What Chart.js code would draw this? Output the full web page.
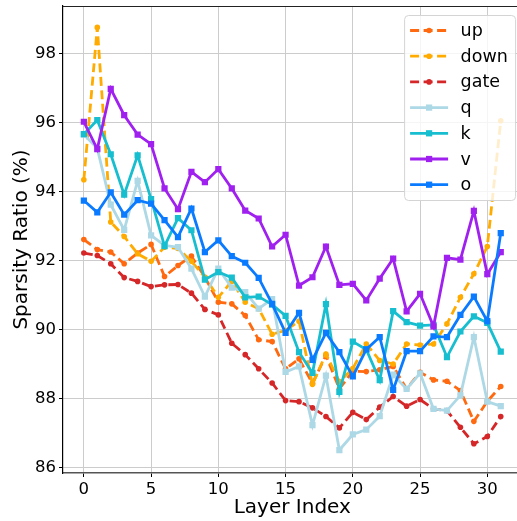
<!DOCTYPE html>
<html>
<head>
<meta charset="utf-8">
<script src="https://cdn.jsdelivr.net/npm/chart.js@4.4.1/dist/chart.umd.min.js"></script>
<style>
  html, body { margin: 0; padding: 0; background: #fff; overflow: hidden; }
  #wrap { width: 517px; height: 521px; overflow: hidden; }
</style>
</head>
<body>
<div id="wrap"><canvas id="chart" width="526" height="521"></canvas></div>
<script>
// layer indices (x) and sparsity values per projection
const LAYERS = [0, 1, 2, 3, 4, 5, 6, 7, 8, 9, 10, 11, 12, 13, 14, 15,
                16, 17, 18, 19, 20, 21, 22, 23, 24, 25, 26, 27, 28, 29, 30, 31];
const NAMES = ['up', 'down', 'gate', 'q', 'k', 'v', 'o'];

const UP = [92.61, 92.32, 92.25, 91.91, 92.22, 92.47, 91.54, 91.86, 92.13, 91.52, 90.80, 90.75, 90.41, 89.71, 89.66, 88.87,
            89.16, 88.45, 89.26, 88.29, 88.80, 88.79, 88.84, 88.94, 88.29, 88.77, 88.55, 88.51, 88.24, 87.35, 87.93, 88.36];
const DOWN = [94.34, 98.75, 93.12, 92.70, 92.20, 91.98, 92.39, 92.35, 91.98, 91.52, 90.94, 91.40, 90.80, 90.61, 89.87, 89.98,
              90.25, 88.42, 89.30, 88.50, 88.88, 89.59, 89.11, 89.01, 89.59, 89.56, 89.59, 90.17, 90.94, 91.62, 92.41, 96.05];
const GATE = [92.22, 92.15, 91.91, 91.51, 91.40, 91.25, 91.30, 91.31, 91.06, 90.59, 90.43, 89.61, 89.28, 88.87, 88.46, 87.95,
              87.92, 87.74, 87.49, 87.16, 87.61, 87.40, 87.76, 88.07, 87.79, 87.98, 87.71, 87.66, 87.18, 86.70, 86.91, 87.49];
const Q = [95.65, 95.25, 93.62, 92.89, 94.31, 92.73, 92.44, 92.39, 91.77, 90.96, 91.77, 91.22, 91.09, 90.61, 90.89, 88.78,
           88.94, 87.24, 88.67, 86.52, 86.97, 87.11, 87.50, 88.70, 88.29, 88.74, 87.71, 87.66, 88.10, 89.79, 87.92, 87.79];
const K = [95.66, 96.07, 95.08, 93.91, 95.05, 93.78, 92.42, 93.23, 92.88, 91.45, 91.67, 91.51, 90.94, 90.96, 90.73, 90.40,
           89.35, 88.75, 90.74, 88.20, 89.66, 89.43, 88.54, 90.54, 90.22, 90.12, 90.14, 89.21, 89.95, 90.39, 90.20, 89.37];
const V = [96.02, 95.23, 96.97, 96.21, 95.65, 95.37, 94.09, 93.49, 94.57, 94.27, 94.65, 94.09, 93.45, 93.22, 92.41, 92.75,
           91.28, 91.52, 92.41, 91.30, 91.33, 90.85, 91.48, 92.06, 90.53, 91.04, 90.10, 92.08, 92.03, 93.44, 91.61, 92.25];
const O = [93.74, 93.40, 93.98, 93.33, 93.75, 93.65, 93.17, 92.68, 93.51, 92.25, 92.59, 92.13, 91.94, 91.50, 90.75, 89.91,
           90.49, 89.13, 89.91, 89.35, 88.65, 89.43, 89.79, 88.26, 89.38, 89.38, 89.81, 89.79, 90.43, 90.96, 90.25, 92.80];
const Y_TICKS = [86, 88, 90, 92, 94, 96, 98];
const X_TICKS = [0, 5, 10, 15, 20, 25, 30];

const SERIES = [UP, DOWN, GATE, Q, K, V, O];
const COLORS = ['#ff6a10', '#ffab00', '#d62728', '#add8e6', '#17becf', '#a020f0', '#0a7bff'];
const DASHED = [true, true, true, false, false, false, false];
const FONT = 'DejaVu Sans';

const datasets = NAMES.map((name, i) => ({
    label: name,
    data: LAYERS.map((x, j) => ({ x: x, y: SERIES[i][j] })),
    borderColor: COLORS[i],
    backgroundColor: COLORS[i],
    borderWidth: 2.8,
    borderDash: DASHED[i] ? [9, 4.5] : [],
    pointStyle: DASHED[i] ? 'circle' : 'rect',
    pointRadius: DASHED[i] ? 2.8 : 4.4,
    pointBorderWidth: 0,
    tension: 0,
    fill: false,
    order: NAMES.length - i   // later series drawn on top, like matplotlib
}));

// top spine + legend box inside the plot (upper right)
const frameLegend = {
    id: 'frameLegend',
    afterDraw(chart) {
        const ctx = chart.ctx;
        const ca = chart.chartArea;
        ctx.save();
        ctx.strokeStyle = '#222';
        ctx.lineWidth = 1;
        ctx.beginPath();
        ctx.moveTo(ca.left, ca.top + 0.5);
        ctx.lineTo(ca.right, ca.top + 0.5);
        ctx.stroke();

        const w = 111, h = 185;
        const left = ca.right - 6.5 - w, top = ca.top + 9;
        ctx.beginPath();
        ctx.roundRect(left + 0.5, top + 0.5, w, h, 4);
        ctx.fillStyle = 'rgba(255,255,255,0.8)';
        ctx.fill();
        ctx.strokeStyle = '#d4d4d4';
        ctx.lineWidth = 1;
        ctx.stroke();

        ctx.font = '17.5px "' + FONT + '"';
        ctx.textBaseline = 'middle';
        ctx.textAlign = 'left';
        chart.data.datasets.forEach((ds, i) => {
            const y = top + 15.5 + i * 25.7;
            ctx.strokeStyle = ds.borderColor;
            ctx.lineWidth = ds.borderWidth;
            ctx.setLineDash(ds.borderDash);
            ctx.beginPath();
            ctx.moveTo(left + 6, y);
            ctx.lineTo(left + 44, y);
            ctx.stroke();
            ctx.setLineDash([]);
            ctx.fillStyle = ds.backgroundColor;
            Chart.helpers.drawPoint(ctx, { pointStyle: ds.pointStyle, radius: ds.pointRadius, borderWidth: 0 }, left + 25, y);
            ctx.fillStyle = '#000';
            ctx.fillText(ds.label, left + 56.5, y + 1);
        });
        ctx.restore();
    }
};

const tickFont = { family: FONT, size: 16.5 };
const titleFont = { family: FONT, size: 20 };

new Chart(document.getElementById('chart'), {
    type: 'line',
    data: { datasets: datasets },
    plugins: [frameLegend],
    options: {
        responsive: false,
        animation: false,
        layout: { padding: { left: 0, right: 1.6, top: 6, bottom: 0 } },
        plugins: { legend: { display: false }, tooltip: { enabled: false } },
        scales: {
            x: {
                type: 'linear',
                min: -1.55,
                max: 32.55,
                afterFit(s) { s.height = 48; s.paddingLeft = 0; s.paddingRight = 0; },
                afterBuildTicks(s) { s.ticks = X_TICKS.map(v => ({ value: v })); },
                ticks: { font: tickFont, color: '#000', padding: 3, maxRotation: 0 },
                grid: { color: '#cccccc', lineWidth: 1, tickColor: '#000', tickLength: 4 },
                border: { color: '#555', width: 1.5 },
                title: { display: true, text: 'Layer Index', font: titleFont, color: '#000', padding: { top: 0, bottom: 1.5 } }
            },
            y: {
                type: 'linear',
                min: 85.855,
                max: 99.37,
                afterFit(s) { s.width = 63; s.paddingTop = 0; s.paddingBottom = 0; },
                afterBuildTicks(s) { s.ticks = Y_TICKS.map(v => ({ value: v })); },
                ticks: { font: tickFont, color: '#000', padding: 3 },
                grid: { color: '#cccccc', lineWidth: 1, tickColor: '#000', tickLength: 4 },
                border: { color: '#000', width: 1.2 },
                title: { display: true, text: 'Sparsity Ratio (%)', font: titleFont, color: '#000', padding: { top: 10, bottom: 0 } }
            }
        }
    }
});
</script>
</body>
</html>
